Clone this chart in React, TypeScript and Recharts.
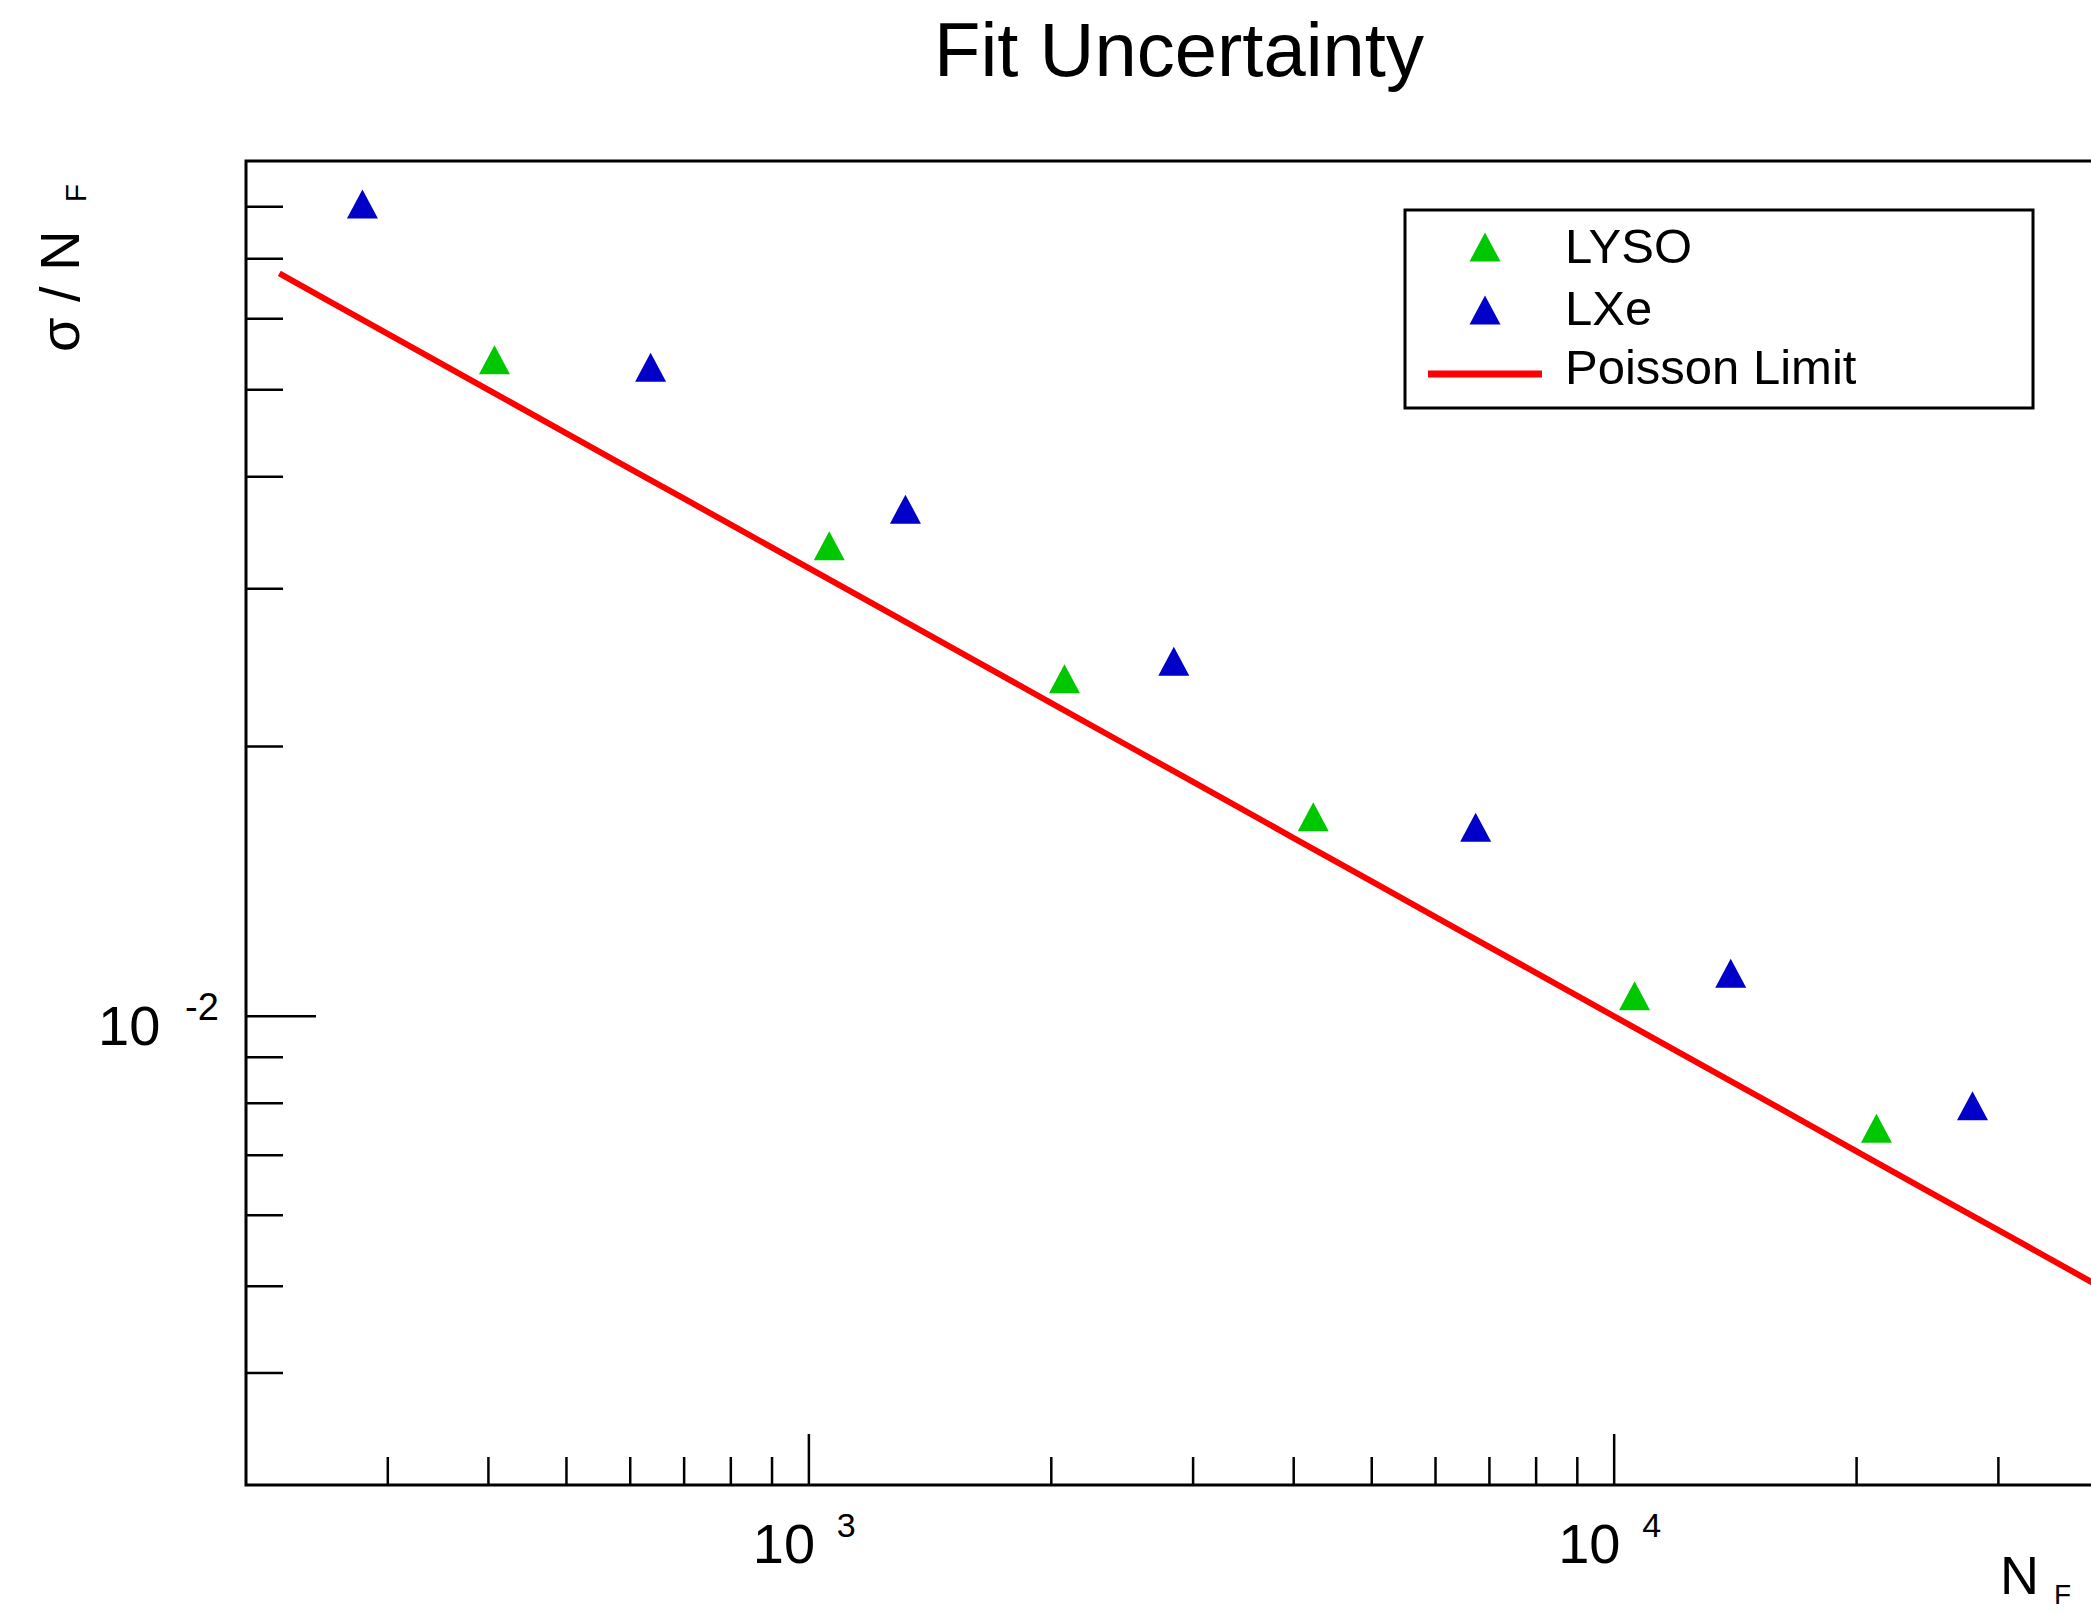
import React from 'react';
import { ComposedChart, XAxis, YAxis, Scatter, Line, ReferenceArea } from 'recharts';

// values (log-log)
const lysoN = [407, 1060, 2077, 4230, 10600, 21170];
const lysoSigma = [0.054, 0.0335, 0.0238, 0.0167, 0.01054, 0.0075];
const lxeN = [279, 636, 1318, 2839, 6730, 13955, 27860];
const lxeSigma = [0.0806, 0.053, 0.0368, 0.0249, 0.01625, 0.01117, 0.00795];
const poissonN = [220, 250, 300, 350, 400, 500, 600, 700, 800, 1000, 1300, 1600, 2000, 2500, 3000, 4000, 5000, 6500, 8000, 10000, 13000, 16000, 20000, 25000, 32000, 40000];
const poissonSigma = [0.06742, 0.06325, 0.05774, 0.05345, 0.05, 0.04472, 0.04082, 0.0378, 0.03536, 0.03162, 0.02774, 0.025, 0.02236, 0.02, 0.01826, 0.01581, 0.01414, 0.0124, 0.01118, 0.01, 0.00877, 0.00791, 0.00707, 0.00632, 0.00559, 0.005];

const xTicks = [300, 400, 500, 600, 700, 800, 900, 1000, 2000, 3000, 4000, 5000, 6000, 7000, 8000, 9000, 10000, 20000, 30000];
const xMajor = [1000, 10000];
const xExp = ['3', '4'];
const yTicks = [0.004, 0.005, 0.006, 0.007, 0.008, 0.009, 0.01, 0.02, 0.03, 0.04, 0.05, 0.06, 0.07, 0.08];
const yMajor = [0.01];
const yExp = ['-2'];

const seriesNames = ['LYSO', 'LXe', 'Poisson Limit'];
const GREEN = '#00c800';
const BLUE = '#0000c8';
const RED = '#ff0000';
const FONT = '"Liberation Sans", Arial, Helvetica, sans-serif';

const lysoData = lysoN.map((n, i) => ({ n, s: lysoSigma[i] }));
const lxeData = lxeN.map((n, i) => ({ n, s: lxeSigma[i] }));
const poissonData = poissonN.map((n, i) => ({ n, s: poissonSigma[i] }));

const near = (a: number, b: number) => Math.abs(a - b) < 1e-9 * Math.max(1, Math.abs(b));

const triangle = (color: string) => (props: any) => {
  const { cx, cy } = props;
  const w = 31;
  const h = 29;
  return <polygon points={`${cx},${cy - h / 2} ${cx + w / 2},${cy + h / 2} ${cx - w / 2},${cy + h / 2}`} fill={color} />;
};

// ROOT style ticks: drawn inward from the frame
function XTick(props: any) {
  const { x, y, payload } = props;
  const i = xMajor.findIndex((v) => near(payload.value, v));
  const len = i >= 0 ? 51 : 28;
  return (
    <g>
      <line x1={x} y1={y} x2={x} y2={y - len} stroke="#000" strokeWidth={2.5} />
      {i >= 0 && (
        <text fontFamily={FONT} fill="#000">
          <tspan x={x - 56} y={y + 78} fontSize={56}>10</tspan>
          <tspan x={x + 28} y={y + 52} fontSize={34}>{xExp[i]}</tspan>
        </text>
      )}
    </g>
  );
}

function YTick(props: any) {
  const { x, y, payload } = props;
  const i = yMajor.findIndex((v) => near(payload.value, v));
  const len = i >= 0 ? 70 : 37;
  return (
    <g>
      <line x1={x} y1={y} x2={x + len} y2={y} stroke="#000" strokeWidth={2.5} />
      {i >= 0 && (
        <text fontFamily={FONT} fill="#000">
          <tspan x={x - 148} y={y + 29} fontSize={56}>10</tspan>
          <tspan x={x - 61} y={y + 4} fontSize={38}>{yExp[i]}</tspan>
        </text>
      )}
    </g>
  );
}

export default function App() {
  return (
    <div
      style={{
        position: 'fixed',
        left: 0,
        top: 0,
        width: 2091,
        height: 1612,
        overflow: 'hidden',
        background: '#fff',
        fontFamily: FONT,
      }}
    >
      <ComposedChart width={2200} height={1612} margin={{ top: 161, right: 101, bottom: 47, left: 146 }}>
        <XAxis
          dataKey="n"
          type="number"
          scale="log"
          domain={[200, 40000]}
          allowDataOverflow
          ticks={xTicks}
          interval={0}
          tick={<XTick />}
          tickSize={0}
          tickMargin={0}
          tickLine={false}
          axisLine={false}
          height={80}
        />
        <YAxis
          dataKey="s"
          type="number"
          scale="log"
          domain={[0.003, 0.09]}
          allowDataOverflow
          ticks={yTicks}
          interval={0}
          tick={<YTick />}
          tickSize={0}
          tickMargin={0}
          tickLine={false}
          axisLine={false}
          width={100}
        />
        <ReferenceArea x1={200} x2={40000} y1={0.003} y2={0.09} fill="none" stroke="#000" strokeWidth={3} />
        <Line
          data={poissonData}
          dataKey="s"
          name={seriesNames[2]}
          type="linear"
          stroke={RED}
          strokeWidth={6}
          dot={false}
          isAnimationActive={false}
        />
        <Scatter data={lysoData} dataKey="s" name={seriesNames[0]} shape={triangle(GREEN)} isAnimationActive={false} />
        <Scatter data={lxeData} dataKey="s" name={seriesNames[1]} shape={triangle(BLUE)} isAnimationActive={false} />

        <text x={1179} y={76} textAnchor="middle" fontSize={76} fontFamily={FONT} fill="#000">
          Fit Uncertainty
        </text>
        <text x={2000} y={1594} fontSize={54} fontFamily={FONT} fill="#000">
          N
          <tspan dx={15} dy={10} fontSize={28}>F</tspan>
        </text>
        <text transform="rotate(-90 79 352)" x={79} y={352} fontSize={56} fontFamily={FONT} fill="#000">
          σ / N
          <tspan dx={28} dy={7} fontSize={30}>F</tspan>
        </text>

        <g>
          <rect x={1405} y={210} width={628} height={198} fill="#fff" stroke="#000" strokeWidth={3} />
          {triangle(GREEN)({ cx: 1485, cy: 247 })}
          {triangle(BLUE)({ cx: 1485, cy: 310 })}
          <line x1={1428} y1={374} x2={1542} y2={374} stroke={RED} strokeWidth={7} />
          <text x={1565} y={263} fontSize={49} fontFamily={FONT} fill="#000">{seriesNames[0]}</text>
          <text x={1565} y={325} fontSize={49} fontFamily={FONT} fill="#000">{seriesNames[1]}</text>
          <text x={1565} y={384} fontSize={49} fontFamily={FONT} fill="#000">{seriesNames[2]}</text>
        </g>
      </ComposedChart>
    </div>
  );
}
